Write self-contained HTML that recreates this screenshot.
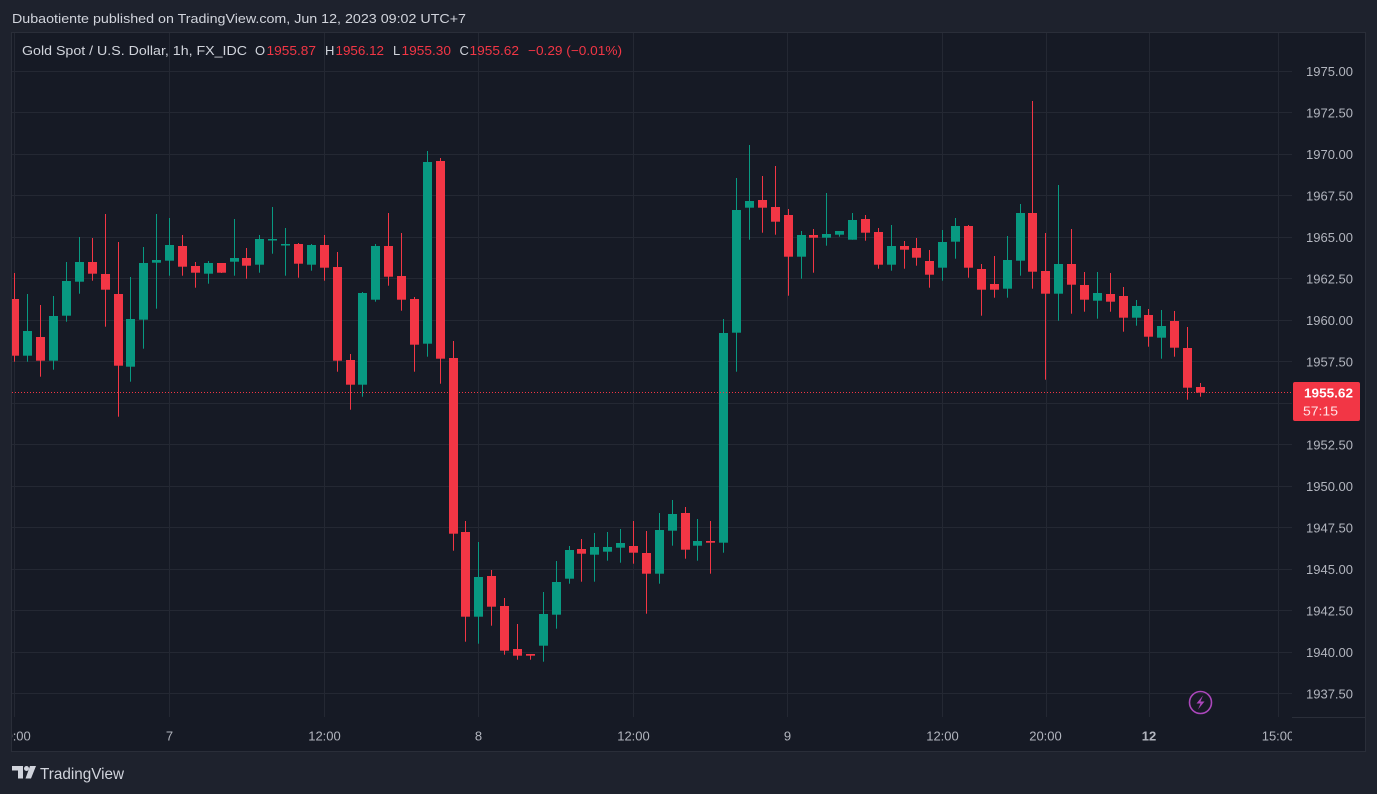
<!DOCTYPE html>
<html><head><meta charset="utf-8"><style>
html,body{margin:0;padding:0;background:#1e222d;width:1377px;height:794px;overflow:hidden}
svg{display:block}
.g{fill:#089981}.r{fill:#f23645}
text{font-family:"Liberation Sans",sans-serif}
</style></head><body>
<svg width="1377" height="794" viewBox="0 0 1377 794" xmlns="http://www.w3.org/2000/svg">
<rect x="0" y="0" width="1377" height="794" fill="#1e222d"/>
<rect x="11.5" y="32.5" width="1354" height="719" fill="#161a25" stroke="#2a2e39" stroke-width="1"/>
<text x="12" y="23" font-size="13" fill="#d1d4dc" textLength="454" lengthAdjust="spacingAndGlyphs">Dubaotiente published on TradingView.com, Jun 12, 2023 09:02 UTC+7</text>
<defs><clipPath id="pane"><rect x="12" y="33" width="1280" height="684"/></clipPath>
<clipPath id="taxis"><rect x="12" y="717" width="1280" height="34"/></clipPath></defs>
<g stroke="#242833" stroke-width="1">
<line x1="12" x2="1292" y1="71.5" y2="71.5"/><line x1="12" x2="1292" y1="112.5" y2="112.5"/><line x1="12" x2="1292" y1="154.5" y2="154.5"/><line x1="12" x2="1292" y1="195.5" y2="195.5"/><line x1="12" x2="1292" y1="237.5" y2="237.5"/><line x1="12" x2="1292" y1="278.5" y2="278.5"/><line x1="12" x2="1292" y1="320.5" y2="320.5"/><line x1="12" x2="1292" y1="361.5" y2="361.5"/><line x1="12" x2="1292" y1="403.5" y2="403.5"/><line x1="12" x2="1292" y1="444.5" y2="444.5"/><line x1="12" x2="1292" y1="486.5" y2="486.5"/><line x1="12" x2="1292" y1="527.5" y2="527.5"/><line x1="12" x2="1292" y1="569.5" y2="569.5"/><line x1="12" x2="1292" y1="610.5" y2="610.5"/><line x1="12" x2="1292" y1="652.5" y2="652.5"/><line x1="12" x2="1292" y1="693.5" y2="693.5"/>
<line y1="33" y2="717" x1="14.5" x2="14.5"/><line y1="33" y2="717" x1="169.5" x2="169.5"/><line y1="33" y2="717" x1="324.5" x2="324.5"/><line y1="33" y2="717" x1="478.5" x2="478.5"/><line y1="33" y2="717" x1="633.5" x2="633.5"/><line y1="33" y2="717" x1="787.5" x2="787.5"/><line y1="33" y2="717" x1="942.5" x2="942.5"/><line y1="33" y2="717" x1="1046.5" x2="1046.5"/><line y1="33" y2="717" x1="1149.5" x2="1149.5"/><line y1="33" y2="717" x1="1278.5" x2="1278.5"/>
</g>
<line x1="1292" x2="1365" y1="717.5" y2="717.5" stroke="#2a2e39"/>
<g clip-path="url(#pane)">
<rect class="r" x="14" y="273" width="1" height="88.7"/><rect class="r" x="10" y="299" width="9" height="56.7"/>
<rect class="g" x="27" y="294" width="1" height="67.7"/><rect class="g" x="23" y="331" width="9" height="24.7"/>
<rect class="r" x="40" y="305" width="1" height="71.7"/><rect class="r" x="36" y="337" width="9" height="23.7"/>
<rect class="g" x="53" y="296" width="1" height="73.7"/><rect class="g" x="49" y="316" width="9" height="44.7"/>
<rect class="g" x="66" y="262" width="1" height="59.7"/><rect class="g" x="62" y="281" width="9" height="34.7"/>
<rect class="g" x="79" y="237" width="1" height="56.7"/><rect class="g" x="75" y="262" width="9" height="19.7"/>
<rect class="r" x="92" y="238" width="1" height="42.7"/><rect class="r" x="88" y="262" width="9" height="11.7"/>
<rect class="r" x="105" y="214" width="1" height="112.7"/><rect class="r" x="101" y="274" width="9" height="15.7"/>
<rect class="r" x="118" y="242" width="1" height="174.7"/><rect class="r" x="114" y="294" width="9" height="71.7"/>
<rect class="g" x="130" y="277" width="1" height="104.7"/><rect class="g" x="126" y="319" width="9" height="47.7"/>
<rect class="g" x="143" y="247" width="1" height="101.7"/><rect class="g" x="139" y="263" width="9" height="56.7"/>
<rect class="g" x="156" y="214" width="1" height="94.7"/><rect class="g" x="152" y="260" width="9" height="2.7"/>
<rect class="g" x="169" y="218" width="1" height="57.7"/><rect class="g" x="165" y="245" width="9" height="15.7"/>
<rect class="r" x="182" y="235" width="1" height="40.7"/><rect class="r" x="178" y="246" width="9" height="20.7"/>
<rect class="r" x="195" y="262" width="1" height="25.7"/><rect class="r" x="191" y="266" width="9" height="6.7"/>
<rect class="g" x="208" y="261" width="1" height="22.7"/><rect class="g" x="204" y="263" width="9" height="10.7"/>
<rect class="r" x="221" y="263" width="1" height="10"/><rect class="r" x="217" y="263" width="9" height="9.7"/>
<rect class="g" x="234" y="219" width="1" height="56.7"/><rect class="g" x="230" y="258" width="9" height="3.7"/>
<rect class="r" x="246" y="248" width="1" height="30.7"/><rect class="r" x="242" y="258" width="9" height="7.7"/>
<rect class="g" x="259" y="235" width="1" height="37.7"/><rect class="g" x="255" y="239" width="9" height="25.7"/>
<rect class="g" x="272" y="207" width="1" height="46.7"/><rect class="g" x="268" y="239" width="9" height="1.5"/>
<rect class="g" x="285" y="228" width="1" height="47.7"/><rect class="g" x="281" y="244" width="9" height="1.5"/>
<rect class="r" x="298" y="243" width="1" height="34.7"/><rect class="r" x="294" y="244" width="9" height="19.7"/>
<rect class="g" x="311" y="244" width="1" height="26.7"/><rect class="g" x="307" y="245" width="9" height="19.7"/>
<rect class="r" x="324" y="235" width="1" height="45.7"/><rect class="r" x="320" y="245" width="9" height="22.7"/>
<rect class="r" x="337" y="252" width="1" height="119.7"/><rect class="r" x="333" y="267" width="9" height="93.7"/>
<rect class="r" x="350" y="354" width="1" height="55.7"/><rect class="r" x="346" y="360" width="9" height="24.7"/>
<rect class="g" x="362" y="292" width="1" height="104.7"/><rect class="g" x="358" y="293" width="9" height="91.7"/>
<rect class="g" x="375" y="244" width="1" height="57.7"/><rect class="g" x="371" y="246" width="9" height="53.7"/>
<rect class="r" x="388" y="213" width="1" height="72.7"/><rect class="r" x="384" y="246" width="9" height="30.7"/>
<rect class="r" x="401" y="233" width="1" height="77.7"/><rect class="r" x="397" y="276" width="9" height="23.7"/>
<rect class="r" x="414" y="297" width="1" height="74.7"/><rect class="r" x="410" y="299" width="9" height="45.7"/>
<rect class="g" x="427" y="151" width="1" height="205.7"/><rect class="g" x="423" y="162" width="9" height="181.7"/>
<rect class="r" x="440" y="158" width="1" height="225.7"/><rect class="r" x="436" y="161" width="9" height="197.7"/>
<rect class="r" x="453" y="341" width="1" height="209.7"/><rect class="r" x="449" y="358" width="9" height="175.7"/>
<rect class="r" x="465" y="521" width="1" height="120.7"/><rect class="r" x="461" y="532" width="9" height="84.7"/>
<rect class="g" x="478" y="542" width="1" height="101.7"/><rect class="g" x="474" y="577" width="9" height="39.7"/>
<rect class="r" x="491" y="570" width="1" height="55.7"/><rect class="r" x="487" y="576" width="9" height="30.7"/>
<rect class="r" x="504" y="598" width="1" height="56.7"/><rect class="r" x="500" y="606" width="9" height="44.7"/>
<rect class="r" x="517" y="624" width="1" height="35.7"/><rect class="r" x="513" y="649" width="9" height="6.7"/>
<rect class="r" x="530" y="654" width="1" height="5.7"/><rect class="r" x="526" y="654" width="9" height="1.7"/>
<rect class="g" x="543" y="592" width="1" height="69.7"/><rect class="g" x="539" y="614" width="9" height="31.7"/>
<rect class="g" x="556" y="561" width="1" height="67.7"/><rect class="g" x="552" y="582" width="9" height="32.7"/>
<rect class="g" x="569" y="546" width="1" height="37.7"/><rect class="g" x="565" y="550" width="9" height="28.7"/>
<rect class="r" x="581" y="539" width="1" height="42.7"/><rect class="r" x="577" y="549" width="9" height="4.7"/>
<rect class="g" x="594" y="533" width="1" height="48.7"/><rect class="g" x="590" y="547" width="9" height="7.7"/>
<rect class="g" x="607" y="532" width="1" height="28.7"/><rect class="g" x="603" y="547" width="9" height="4.7"/>
<rect class="g" x="620" y="529" width="1" height="33.7"/><rect class="g" x="616" y="543" width="9" height="4.7"/>
<rect class="r" x="633" y="521" width="1" height="42.7"/><rect class="r" x="629" y="546" width="9" height="6.7"/>
<rect class="r" x="646" y="531" width="1" height="82.7"/><rect class="r" x="642" y="553" width="9" height="20.7"/>
<rect class="g" x="659" y="513" width="1" height="70.7"/><rect class="g" x="655" y="530" width="9" height="43.7"/>
<rect class="g" x="672" y="500" width="1" height="45.7"/><rect class="g" x="668" y="514" width="9" height="16.7"/>
<rect class="r" x="685" y="507" width="1" height="51.7"/><rect class="r" x="681" y="513" width="9" height="36.7"/>
<rect class="g" x="697" y="519" width="1" height="41.7"/><rect class="g" x="693" y="541" width="9" height="4.7"/>
<rect class="r" x="710" y="521" width="1" height="52.7"/><rect class="r" x="706" y="541" width="9" height="1.7"/>
<rect class="g" x="723" y="319" width="1" height="233.7"/><rect class="g" x="719" y="333" width="9" height="209.7"/>
<rect class="g" x="736" y="178" width="1" height="193.7"/><rect class="g" x="732" y="210" width="9" height="122.7"/>
<rect class="g" x="749" y="145" width="1" height="94.7"/><rect class="g" x="745" y="201" width="9" height="6.7"/>
<rect class="r" x="762" y="176" width="1" height="56.7"/><rect class="r" x="758" y="200" width="9" height="7.7"/>
<rect class="r" x="775" y="166" width="1" height="68.7"/><rect class="r" x="771" y="207" width="9" height="14.7"/>
<rect class="r" x="788" y="209" width="1" height="86.7"/><rect class="r" x="784" y="215" width="9" height="41.7"/>
<rect class="g" x="801" y="231" width="1" height="47.7"/><rect class="g" x="797" y="235" width="9" height="21.7"/>
<rect class="r" x="813" y="229" width="1" height="43.7"/><rect class="r" x="809" y="235" width="9" height="2.7"/>
<rect class="g" x="826" y="193" width="1" height="52.7"/><rect class="g" x="822" y="234" width="9" height="3.7"/>
<rect class="g" x="839" y="231" width="1" height="5.7"/><rect class="g" x="835" y="231" width="9" height="3.7"/>
<rect class="g" x="852" y="213" width="1" height="26.7"/><rect class="g" x="848" y="220" width="9" height="19.7"/>
<rect class="r" x="865" y="215" width="1" height="25.7"/><rect class="r" x="861" y="219" width="9" height="13.7"/>
<rect class="r" x="878" y="228" width="1" height="40.7"/><rect class="r" x="874" y="232" width="9" height="32.7"/>
<rect class="g" x="891" y="225" width="1" height="45.7"/><rect class="g" x="887" y="246" width="9" height="18.7"/>
<rect class="r" x="904" y="241" width="1" height="27.7"/><rect class="r" x="900" y="246" width="9" height="3.7"/>
<rect class="r" x="916" y="238" width="1" height="27.7"/><rect class="r" x="912" y="248" width="9" height="9.7"/>
<rect class="r" x="929" y="250" width="1" height="37.7"/><rect class="r" x="925" y="261" width="9" height="13.7"/>
<rect class="g" x="942" y="230" width="1" height="50.7"/><rect class="g" x="938" y="242" width="9" height="25.7"/>
<rect class="g" x="955" y="218" width="1" height="40.7"/><rect class="g" x="951" y="226" width="9" height="15.7"/>
<rect class="r" x="968" y="225" width="1" height="52.7"/><rect class="r" x="964" y="226" width="9" height="41.7"/>
<rect class="r" x="981" y="264" width="1" height="51.7"/><rect class="r" x="977" y="269" width="9" height="20.7"/>
<rect class="r" x="994" y="256" width="1" height="41.7"/><rect class="r" x="990" y="284" width="9" height="5.7"/>
<rect class="g" x="1007" y="236" width="1" height="61.7"/><rect class="g" x="1003" y="260" width="9" height="28.7"/>
<rect class="g" x="1020" y="204" width="1" height="71.7"/><rect class="g" x="1016" y="213" width="9" height="47.7"/>
<rect class="r" x="1032" y="101" width="1" height="187.7"/><rect class="r" x="1028" y="213" width="9" height="58.7"/>
<rect class="r" x="1045" y="233" width="1" height="146.7"/><rect class="r" x="1041" y="271" width="9" height="22.7"/>
<rect class="g" x="1058" y="185" width="1" height="135.7"/><rect class="g" x="1054" y="264" width="9" height="29.7"/>
<rect class="r" x="1071" y="229" width="1" height="84.7"/><rect class="r" x="1067" y="264" width="9" height="20.7"/>
<rect class="r" x="1084" y="272" width="1" height="39.7"/><rect class="r" x="1080" y="285" width="9" height="14.7"/>
<rect class="g" x="1097" y="272" width="1" height="46.7"/><rect class="g" x="1093" y="293" width="9" height="7.7"/>
<rect class="r" x="1110" y="273" width="1" height="38.7"/><rect class="r" x="1106" y="294" width="9" height="7.7"/>
<rect class="r" x="1123" y="287" width="1" height="44.7"/><rect class="r" x="1119" y="296" width="9" height="21.7"/>
<rect class="g" x="1136" y="300" width="1" height="25.7"/><rect class="g" x="1132" y="306" width="9" height="11.7"/>
<rect class="r" x="1148" y="309" width="1" height="37.7"/><rect class="r" x="1144" y="315" width="9" height="21.7"/>
<rect class="g" x="1161" y="310" width="1" height="48.7"/><rect class="g" x="1157" y="326" width="9" height="11.7"/>
<rect class="r" x="1174" y="311" width="1" height="45.7"/><rect class="r" x="1170" y="321" width="9" height="26.7"/>
<rect class="r" x="1187" y="327" width="1" height="72.7"/><rect class="r" x="1183" y="348" width="9" height="39.7"/>
<rect class="r" x="1200" y="383" width="1" height="13.7"/><rect class="r" x="1196" y="387" width="9" height="5.7"/>
<line x1="12" x2="1292" y1="392.5" y2="392.5" stroke="#f23645" stroke-width="1" stroke-dasharray="1 2"/>
</g>
<text x="22" y="55" font-size="13" fill="#d1d4dc" textLength="225" lengthAdjust="spacingAndGlyphs">Gold Spot / U.S. Dollar, 1h, FX_IDC</text>
<g font-size="13">
<text x="255" y="55" fill="#d1d4dc">O</text><text x="266.5" y="55" fill="#f23645" textLength="49.5" lengthAdjust="spacingAndGlyphs">1955.87</text>
<text x="325" y="55" fill="#d1d4dc">H</text><text x="335.5" y="55" fill="#f23645" textLength="48.5" lengthAdjust="spacingAndGlyphs">1956.12</text>
<text x="393" y="55" fill="#d1d4dc">L</text><text x="401.5" y="55" fill="#f23645" textLength="49.5" lengthAdjust="spacingAndGlyphs">1955.30</text>
<text x="459.5" y="55" fill="#d1d4dc">C</text><text x="469.5" y="55" fill="#f23645" textLength="49.5" lengthAdjust="spacingAndGlyphs">1955.62</text>
<text x="528" y="55" fill="#f23645" textLength="94" lengthAdjust="spacingAndGlyphs">−0.29 (−0.01%)</text>
</g>
<g font-size="13" fill="#b2b5be" text-anchor="end">
<text x="1353" y="76">1975.00</text><text x="1353" y="117.5">1972.50</text><text x="1353" y="159">1970.00</text><text x="1353" y="200.5">1967.50</text><text x="1353" y="242">1965.00</text><text x="1353" y="283.5">1962.50</text><text x="1353" y="325">1960.00</text><text x="1353" y="366.5">1957.50</text><text x="1353" y="449.5">1952.50</text><text x="1353" y="491">1950.00</text><text x="1353" y="532.5">1947.50</text><text x="1353" y="574">1945.00</text><text x="1353" y="615.5">1942.50</text><text x="1353" y="657">1940.00</text><text x="1353" y="698.5">1937.50</text>
</g>
<rect x="1293" y="382" width="67" height="39" rx="2" fill="#f23645"/>
<text x="1304" y="397.5" font-size="13" font-weight="bold" fill="#ffffff" textLength="49" lengthAdjust="spacingAndGlyphs">1955.62</text>
<text x="1303" y="415.5" font-size="13" fill="#ffe4e7" textLength="35" lengthAdjust="spacingAndGlyphs">57:15</text>
<g clip-path="url(#taxis)" font-size="13" fill="#b2b5be" text-anchor="middle">
<text x="14.5" y="740.5">20:00</text><text x="169.5" y="740.5">7</text><text x="324.5" y="740.5">12:00</text><text x="478.5" y="740.5">8</text><text x="633.5" y="740.5">12:00</text><text x="787.5" y="740.5">9</text><text x="942.5" y="740.5">12:00</text><text x="1045.5" y="740.5">20:00</text><text x="1149" y="740.5" font-weight="bold">12</text><text x="1278" y="740.5">15:00</text>
</g>
<circle cx="1200.5" cy="702.5" r="11" fill="none" stroke="#ab47bc" stroke-width="1.6"/>
<path d="M1203 695.5 L1196.5 703.5 L1200.5 703.5 L1198 709.5 L1204.5 701.5 L1200.5 701.5 Z" fill="#ab47bc"/>
<g fill="#d1d4dc">
<path d="M12 766 H23 V778.5 H18 V770.5 H12 Z"/>
<circle cx="26.5" cy="768.5" r="2.5"/>
<path d="M30 766 H36 L31 778.5 H25.5 Z"/>
</g>
<text x="40" y="779" font-size="16" fill="#d1d4dc" textLength="84" lengthAdjust="spacingAndGlyphs">TradingView</text>
</svg>
</body></html>
